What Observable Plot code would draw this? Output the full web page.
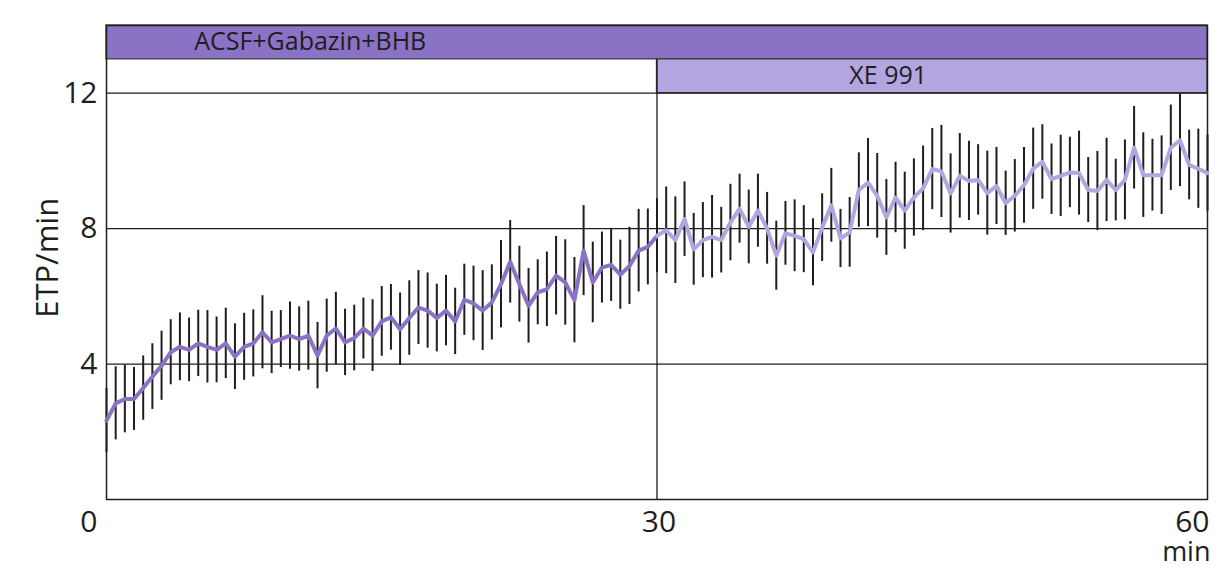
<!DOCTYPE html>
<html>
<head>
<meta charset="utf-8">
<script src="https://cdn.jsdelivr.net/npm/d3@7"></script>
<script src="https://cdn.jsdelivr.net/npm/@observablehq/plot@0.6"></script>
<style>
  html, body { margin: 0; padding: 0; background: #fff; }
  #chart { width: 1220px; height: 568px; }
</style>
</head>
<body>
<div id="chart"></div>
<script>
// Mean epileptiform-like event rate (ETP/min) sampled every 0.5 min, 0–60 min
const etpMean = [
  2.33, 2.84, 2.97, 2.97, 3.29, 3.63, 3.95, 4.35, 4.51, 4.42,
  4.61, 4.51, 4.42, 4.61, 4.22, 4.51, 4.61, 4.94, 4.64, 4.74,
  4.84, 4.74, 4.84, 4.25, 4.84, 5.05, 4.64, 4.77, 5.05, 4.84,
  5.26, 5.38, 5.03, 5.36, 5.67, 5.58, 5.36, 5.58, 5.26, 5.90,
  5.79, 5.58, 5.82, 6.36, 7.02, 6.36, 5.72, 6.12, 6.21, 6.61,
  6.41, 5.89, 7.35, 6.41, 6.85, 6.93, 6.64, 6.90, 7.35, 7.46,
  7.79, 7.95, 7.66, 8.28, 7.39, 7.66, 7.76, 7.66, 8.18, 8.59,
  8.05, 8.53, 8.01, 7.20, 7.86, 7.79, 7.69, 7.30, 8.03, 8.69,
  7.71, 7.89, 9.14, 9.36, 8.97, 8.33, 8.92, 8.53, 8.92, 9.19,
  9.76, 9.69, 9.04, 9.56, 9.41, 9.44, 9.05, 9.26, 8.75, 8.97,
  9.28, 9.77, 9.97, 9.46, 9.56, 9.66, 9.64, 9.14, 9.11, 9.44,
  9.14, 9.44, 10.39, 9.58, 9.58, 9.58, 10.39, 10.61, 9.88, 9.77,
  9.64
];

// Standard error of the mean for each sample
const etpSem = [
  0.95, 1.08, 1.00, 0.93, 0.95, 0.97, 1.02, 0.96, 1.00, 0.94,
  0.98, 1.07, 0.97, 1.04, 0.97, 0.99, 0.99, 1.08, 0.92, 0.84,
  0.99, 0.95, 1.02, 0.98, 1.08, 1.07, 0.98, 0.97, 0.90, 1.06,
  1.03, 0.97, 1.07, 1.10, 1.09, 1.11, 1.00, 1.04, 0.98, 1.05,
  1.10, 1.18, 1.11, 1.29, 1.22, 1.12, 1.10, 0.96, 1.10, 1.16,
  1.26, 1.26, 1.33, 1.19, 1.05, 1.08, 1.02, 1.14, 1.22, 1.12,
  1.09, 1.28, 1.28, 1.10, 1.06, 1.11, 1.22, 0.97, 1.13, 1.02,
  1.09, 1.08, 1.06, 1.02, 0.94, 1.06, 0.99, 0.99, 1.00, 1.09,
  0.86, 1.03, 1.10, 1.30, 1.25, 1.12, 1.04, 1.14, 1.14, 1.25,
  1.20, 1.36, 1.17, 1.25, 1.17, 1.04, 1.24, 1.14, 0.95, 1.07,
  1.12, 1.20, 1.10, 1.04, 1.20, 1.04, 1.24, 0.96, 1.17, 1.23,
  0.91, 1.18, 1.22, 1.25, 1.06, 1.16, 1.26, 1.37, 1.03, 1.17,
  1.13
];

const sampleMinutes = 0.5;
const drugOnset = 30;          // XE 991 application (min)
const yTicks = [4, 8, 12];
const xTicks = [0, 30, 60];
const xUnit = "min";
const yLabel = "ETP/min";

// Perfusion periods shown as bars above the traces
const treatments = [
  { label: "ACSF+Gabazin+BHB", start: 0, end: 60, level: 13 },
  { label: "XE 991", start: 30, end: 60, level: 12 }
];

const rows = etpMean.map((m, i) => ({ t: i * sampleMinutes, mean: m, sem: etpSem[i] }));
const beforeDrug = rows.filter(d => d.t <= drugOnset);
const withDrug = rows.filter(d => d.t >= drugOnset);

const ink = "#1e1e1e";
const purpleDark = "#8a72c5";
const purpleLight = "#b2a5e0";

const chart = Plot.plot({
  width: 1220,
  height: 568,
  marginLeft: 106,
  marginRight: 13,
  marginTop: 25,
  marginBottom: 69,
  x: { domain: [0, 60], axis: null },
  y: { domain: [0, 14], axis: null },
  style: { fontFamily: "'Open Sans', sans-serif", background: "#fff", color: ink },
  marks: [
    // treatment bars
    Plot.rect(treatments.filter(d => d.start === 0), {
      x1: "start", x2: "end", y1: "level", y2: d => d.level + 1,
      fill: purpleDark, stroke: "#3a3a3a", strokeWidth: 1.3
    }),
    Plot.rect(treatments.filter(d => d.start > 0), {
      x1: "start", x2: "end", y1: "level", y2: d => d.level + 1,
      fill: purpleLight, stroke: "#3a3a3a", strokeWidth: 1.3
    }),
    Plot.text([treatments[0]], {
      x: () => 11.1, y: d => d.level + 0.5, text: "label",
      fontSize: 25, fill: ink
    }),
    Plot.text([treatments[1]], {
      x: () => 42.6, y: d => d.level + 0.5, text: "label",
      fontSize: 25, fill: ink
    }),
    // gridlines and drug onset marker
    Plot.ruleY(yTicks, { stroke: ink, strokeWidth: 1.3 }),
    Plot.ruleX([drugOnset], { y1: 0, y2: 13, stroke: ink, strokeWidth: 1.3 }),
    Plot.frame({ stroke: ink, strokeWidth: 1.5 }),
    // SEM error bars
    Plot.ruleX(rows, {
      x: "t", y1: d => d.mean - d.sem, y2: d => d.mean + d.sem,
      stroke: ink, strokeWidth: 2
    }),
    // mean traces
    Plot.line(beforeDrug, {
      x: "t", y: "mean", stroke: purpleDark, strokeWidth: 4,
      strokeLinejoin: "round", strokeLinecap: "round"
    }),
    Plot.line(withDrug, {
      x: "t", y: "mean", stroke: purpleLight, strokeWidth: 4,
      strokeLinejoin: "round", strokeLinecap: "round"
    }),
    // y tick labels
    Plot.text(yTicks, {
      x: () => 0, y: d => d, text: d => String(d),
      textAnchor: "end", dx: -9, fontSize: 30, fill: ink
    }),
    // x tick labels
    Plot.text(xTicks.filter(d => d === 0), {
      x: d => d, y: () => 0, text: d => String(d),
      textAnchor: "end", dx: -9, dy: 23, fontSize: 30, fill: ink
    }),
    Plot.text(xTicks.filter(d => d > 0 && d < 60), {
      x: d => d, y: () => 0, text: d => String(d),
      dx: 2, dy: 23, fontSize: 30, fill: ink
    }),
    Plot.text(xTicks.filter(d => d === 60), {
      x: d => d, y: () => 0, text: d => String(d),
      textAnchor: "end", dx: 2, dy: 23, fontSize: 30, fill: ink
    }),
    Plot.text([xUnit], {
      x: () => 60, y: () => 0, text: d => d,
      textAnchor: "end", dx: 3, dy: 53, fontSize: 27, fill: ink
    }),
    // y axis label
    Plot.text([yLabel], {
      x: () => 0, y: () => 7.14, text: d => d, rotate: -90,
      textAnchor: "middle", dx: -58, fontSize: 31, fill: ink
    })
  ]
});

document.getElementById("chart").appendChild(chart);
</script>
</body>
</html>
